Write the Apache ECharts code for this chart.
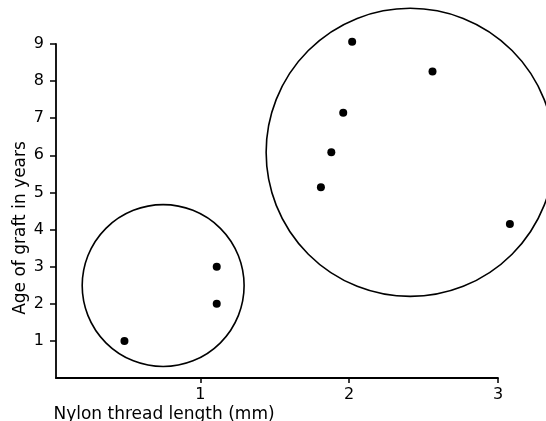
<!DOCTYPE html>
<html>
<head>
<meta charset="utf-8">
<script src="https://cdn.jsdelivr.net/npm/echarts@6/dist/echarts.min.js"></script>
<style>
  html, body { margin: 0; padding: 0; background: #fff; }
  #main { width: 546px; height: 421px; }
</style>
</head>
<body>
<div id="main"></div>
<script>
// thread length (mm) vs age of graft (years)
var threadLength = [0.49, 1.11, 1.11, 1.81, 1.88, 1.96, 2.02, 2.56, 3.08];
var graftAge = [1.0, 2.0, 3.0, 5.14, 6.08, 7.15, 9.06, 8.26, 4.15];

// the two ringed groups: centre and radius in x units
var groupCenterX = [0.75, 2.41];
var groupCenterY = [2.49, 6.08];
var groupRadius = [0.544, 0.968];

var xTicks = [1, 2, 3];
var yTicks = [1, 2, 3, 4, 5, 6, 7, 8, 9];

var points = [];
for (var i = 0; i < threadLength.length; i++) {
  points.push([threadLength[i], graftAge[i]]);
}
var rings = [];
for (var j = 0; j < groupCenterX.length; j++) {
  rings.push([groupCenterX[j], groupCenterY[j], groupRadius[j]]);
}

var font = 'DejaVu Sans';
var chartDom = document.getElementById('main');
var myChart = echarts.init(chartDom, null, { renderer: 'canvas' });

var option = {
  animation: false,
  backgroundColor: '#ffffff',
  grid: { left: 56, right: 48, top: 44, bottom: 43, containLabel: false, outerBoundsMode: 'none' },
  xAxis: {
    type: 'value',
    min: 0.03,
    max: 3,
    name: 'Nylon thread length (mm)',
    nameLocation: 'middle',
    nameGap: 28,
    nameMoveOverlap: false,
    nameTextStyle: {
      fontFamily: font, fontSize: 17, color: '#000',
      verticalAlign: 'top', padding: [0, 226, 0, 0]
    },
    axisLine: { lineStyle: { color: '#000', width: 1.8 } },
    axisTick: { customValues: xTicks, length: 5, lineStyle: { color: '#000', width: 1.5 } },
    axisLabel: { customValues: xTicks, fontFamily: font, fontSize: 16, color: '#000', margin: 9 },
    splitLine: { show: false }
  },
  yAxis: {
    type: 'value',
    min: 0,
    max: 9,
    name: 'Age of graft in years',
    nameLocation: 'middle',
    nameGap: 27,
    nameMoveOverlap: false,
    nameTextStyle: {
      fontFamily: font, fontSize: 17, color: '#000', padding: [0, 34, 0, 0]
    },
    axisLine: { lineStyle: { color: '#000', width: 1.8 } },
    axisTick: { customValues: yTicks, length: 6, lineStyle: { color: '#000', width: 1.5 } },
    axisLabel: { customValues: yTicks, fontFamily: font, fontSize: 16, color: '#000', margin: 12 },
    splitLine: { show: false }
  },
  series: [
    {
      type: 'custom',
      data: rings,
      clip: false,
      renderItem: function (params, api) {
        var c = api.coord([api.value(0), api.value(1)]);
        var r = api.size([api.value(2), 0])[0];
        return {
          type: 'circle',
          shape: { cx: c[0], cy: c[1], r: r },
          style: { fill: 'none', stroke: '#000', lineWidth: 1.6 }
        };
      },
      silent: true
    },
    {
      type: 'scatter',
      data: points,
      clip: false,
      symbol: 'circle',
      symbolSize: 8,
      itemStyle: { color: '#000', opacity: 1 }
    }
  ]
};

option && myChart.setOption(option);
</script>
</body>
</html>
